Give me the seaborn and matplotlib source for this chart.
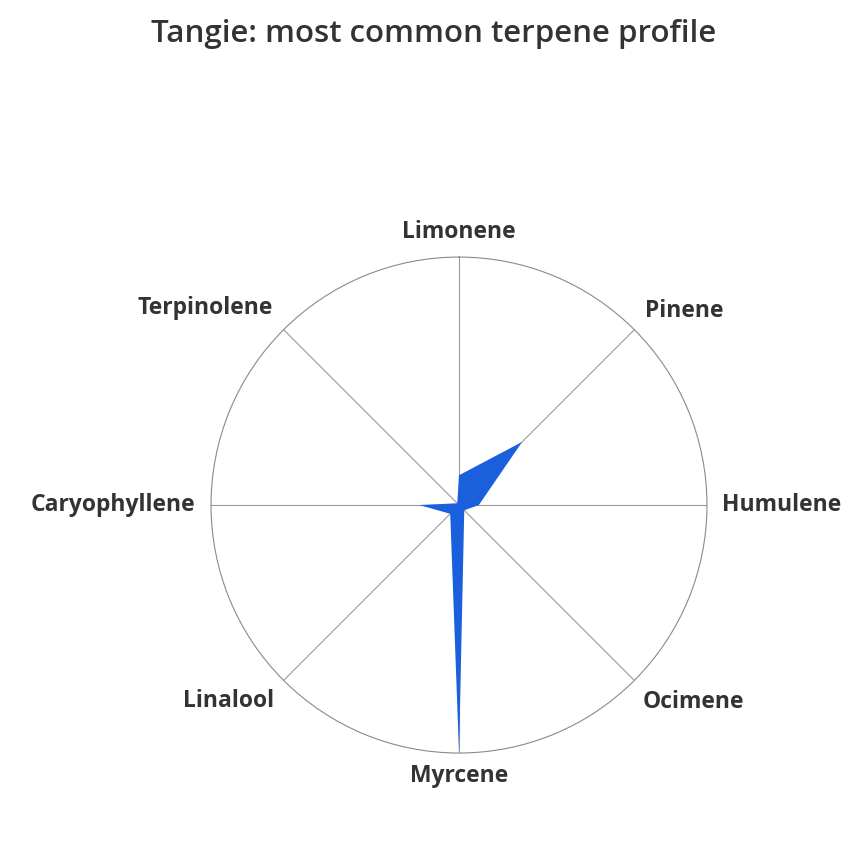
import numpy as np
import seaborn as sns
import matplotlib.pyplot as plt

# terpene profile, fraction of the largest value
terpenes = ["Limonene", "Pinene", "Humulene", "Ocimene",
            "Myrcene", "Linalool", "Caryophyllene", "Terpinolene"]
values = [0.12, 0.36, 0.08, 0.03, 1.0, 0.05, 0.16, 0.01]

sns.set_style("white")
plt.rcParams['font.family'] = ['Open Sans', 'DejaVu Sans']

fig = plt.figure(figsize=(8.68, 8.56), dpi=100)
ax = fig.add_axes([0.2431, 0.1203, 0.5714, 0.5794], projection="polar")
ax.set_theta_zero_location("N")
ax.set_theta_direction(-1)

n = len(terpenes)
angles = np.linspace(0, 2 * np.pi, n, endpoint=False)
theta = np.concatenate([angles, angles[:1]])
r = np.concatenate([values, values[:1]])

ax.fill(theta, r, color="#1a5fdb", lw=0)
ax.set_ylim(0, 1)
ax.set_yticks([])
ax.set_xticks(angles)
ax.set_xticklabels([])
ax.xaxis.grid(True, color="#9a9a9a", lw=0.8)
ax.yaxis.grid(False)
ax.spines["polar"].set_color("#8a8a8a")
ax.spines["polar"].set_linewidth(0.8)
ax.tick_params(length=0)

# label offsets in pixels, and alignment
spots = [((0, 25), "center"), ((11, 19), "left"), ((15, 0), "left"),
         ((8, -22), "left"), ((0, -23), "center"), ((-10, -21), "right"),
         ((-16, 0), "right"), ((-11, 22), "right")]
for a, name, (off, ha) in zip(angles, terpenes, spots):
    ax.annotate(name, xy=(a, 1.0), xytext=off, textcoords="offset pixels",
                ha=ha, va="center", fontsize=16.5, fontweight="bold",
                color="#333333", annotation_clip=False)

fig.text(0.5, 1 - 34 / 856, "Tangie: most common terpene profile",
         ha="center", va="center", fontsize=22.5, fontweight="semibold",
         color="#333333")

fig.savefig("out.png", dpi=100)
